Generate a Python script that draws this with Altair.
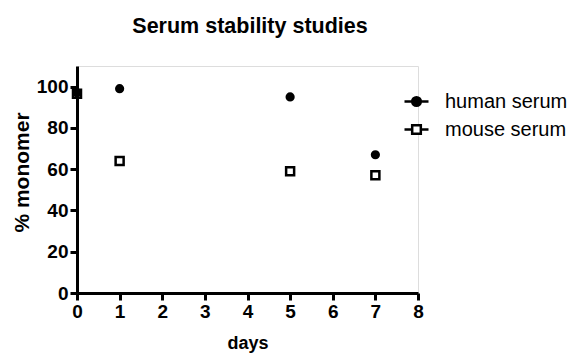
import altair as alt
import pandas as pd

days = [0, 1, 5, 7]
human_serum = [97, 99, 95, 67]
mouse_serum = [96.5, 64, 59, 57]
series_names = ["human serum", "mouse serum"]
x_ticks = [0, 1, 2, 3, 4, 5, 6, 7, 8]
y_ticks = [0, 20, 40, 60, 80, 100]

rows = []
for d, v in zip(days, mouse_serum):
    rows.append({"days": d, "value": v, "series": "mouse serum"})
for d, v in zip(days, human_serum):
    rows.append({"days": d, "value": v, "series": "human serum"})
df = pd.DataFrame(rows)

FONT = "Liberation Sans"

x_enc = alt.X("days:Q",
              scale=alt.Scale(domain=[0, 8], nice=False),
              axis=alt.Axis(values=x_ticks, title="days", grid=False, labelFlush=False,
                            domainColor="black", domainWidth=3,
                            tickColor="black", tickWidth=3, tickSize=7,
                            labelFont=FONT, labelFontSize=19, labelFontWeight="bold",
                            labelColor="black", labelPadding=2,
                            titleFont=FONT, titleFontSize=18, titleFontWeight="bold",
                            titleColor="black", titleY=50, titleBaseline="middle"))
y_enc = alt.Y("value:Q",
              scale=alt.Scale(domain=[0, 110], nice=False),
              axis=alt.Axis(values=y_ticks, title="% monomer", grid=False, labelFlush=False,
                            domainColor="black", domainWidth=3,
                            tickColor="black", tickWidth=3, tickSize=7,
                            labelFont=FONT, labelFontSize=19, labelFontWeight="bold",
                            labelColor="black", labelPadding=2,
                            titleFont=FONT, titleFontSize=21, titleFontWeight="bold",
                            titleColor="black", titleX=-55, titleY=106,
                            titleBaseline="middle", titleAlign="center", titleAngle=270))

base = alt.Chart(df)

mouse_pts = base.transform_filter(alt.datum.series == "mouse serum").mark_point(
    shape="square", filled=True, fill="white", stroke="black", strokeWidth=2.5, opacity=1, size=64
).encode(x=x_enc, y=y_enc)

human_pts = base.transform_filter(alt.datum.series == "human serum").mark_point(
    shape="circle", filled=True, fill="black", stroke="black", strokeWidth=2.5, opacity=1, size=45
).encode(x=x_enc, y=y_enc)

human_path = "M-1,0H1M-0.36,0A0.36,0.36,0,1,0,0.36,0A0.36,0.36,0,1,0,-0.36,0Z"
mouse_path = "M-1,0H-0.36M0.36,0H1M-0.36,-0.36H0.36V0.36H-0.36Z"

leg = alt.Legend(title=None, orient="none", legendX=326, legendY=22,
                 padding=0, offset=0, symbolSize=576,
                 symbolStrokeColor="black", symbolStrokeWidth=2.5,
                 labelFont=FONT, labelFontSize=20, labelColor="black",
                 labelOffset=15, rowPadding=4)

legend_layer = base.transform_filter("false").mark_point(
    filled=True, strokeWidth=2.5, opacity=1, size=576
).encode(
    x=alt.X("days:Q"),
    y=alt.Y("value:Q"),
    shape=alt.Shape("series:N", scale=alt.Scale(domain=series_names, range=[human_path, mouse_path]),
                    legend=leg),
    fill=alt.Fill("series:N", scale=alt.Scale(domain=series_names, range=["black", "white"]),
                  legend=leg),
    stroke=alt.Stroke("series:N", scale=alt.Scale(domain=series_names, range=["black", "black"]),
                      legend=leg),
)

chart = alt.layer(mouse_pts, human_pts, legend_layer).properties(
    width=341, height=227,
    title=alt.TitleParams("Serum stability studies", font=FONT, fontSize=21.5,
                          fontWeight="bold", color="black", anchor="middle",
                          offset=12, dx=2.5, baseline="alphabetic"),
    autosize=alt.AutoSizeParams(type="none"),
    padding={"left": 77, "top": 66, "right": 151, "bottom": 63},
).configure_view(stroke=None).configure(background="white")

chart.save("out.html", embed_options={"renderer": "svg", "actions": False})
